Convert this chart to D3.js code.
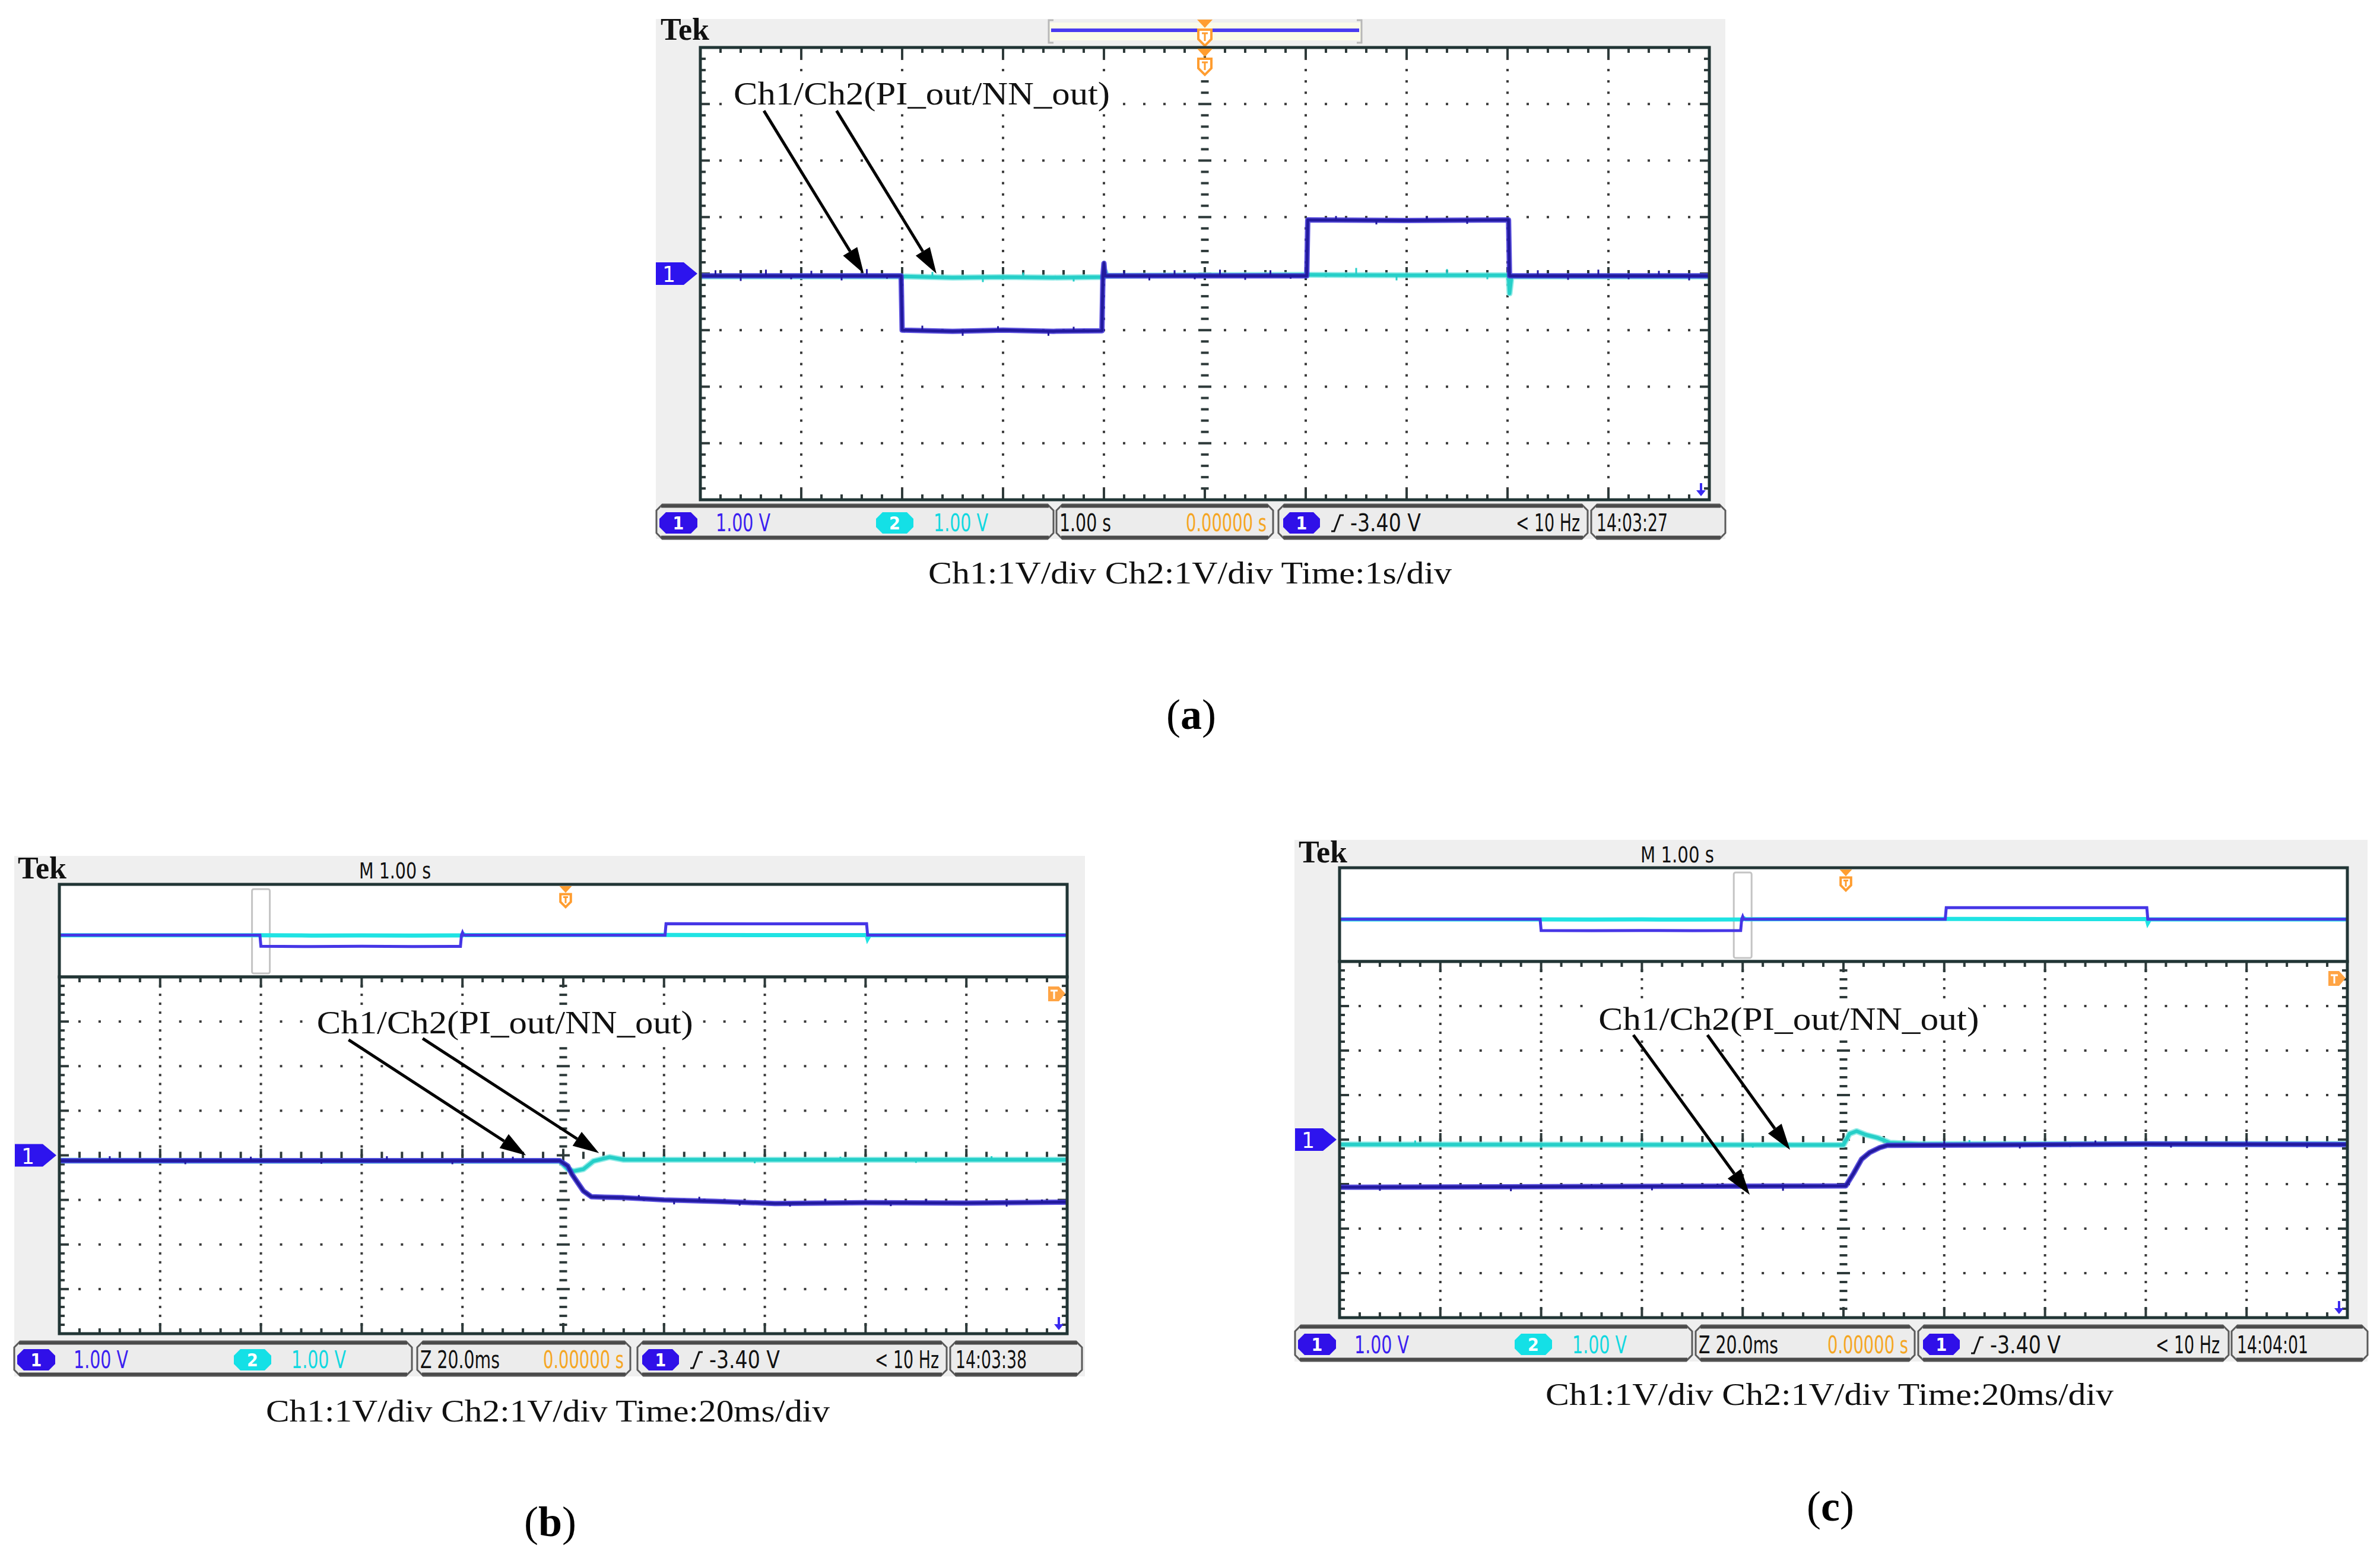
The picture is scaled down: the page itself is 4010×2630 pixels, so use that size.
<!DOCTYPE html>
<html><head><meta charset="utf-8">
<script src="https://cdn.jsdelivr.net/npm/d3@7"></script>
<style>html,body{margin:0;padding:0;background:#fff;}svg{display:block}</style>
</head><body>
<svg id="c" width="4010" height="2630"></svg>
<script>
// ================= DATA =================
const annotationText = "Ch1/Ch2(PI_out/NN_out)";
const panelLabels = ["a", "b", "c"];
const captions = ["Ch1:1V/div Ch2:1V/div Time:1s/div", "Ch1:1V/div Ch2:1V/div Time:20ms/div", "Ch1:1V/div Ch2:1V/div Time:20ms/div"];
const ch1ScaleLabel = "1.00 V";
const ch2ScaleLabel = "1.00 V";
const timebaseLabels = ["1.00 s", "Z 20.0ms", "Z 20.0ms"];
const positionLabel = "0.00000 s";
const triggerLevelLabel = "-3.40 V";
const freqLabel = "< 10 Hz";
const clockLabels = ["14:03:27", "14:03:38", "14:04:01"];
const mainTimebaseLabel = "M 1.00 s";
const zoomWindowCenters = [null, -3, -1];   // s, position of zoom window in the record

// Full record (panel a and overviews): [time s, volts]
const ch1Record = [[-5,-0.04],[-3.01,-0.04],[-3.0,-1.0],[-2.5,-1.02],[-2.0,-1.0],[-1.5,-1.02],[-1.02,-1.01],[-1.01,-0.04],[-1.0,0.18],[-0.99,-0.04],[1.01,-0.04],[1.02,0.95],[2.0,0.94],[3.01,0.95],[3.02,-0.04],[5,-0.04]];
const ch2Record = [[-5,-0.05],[-3.0,-0.05],[-2.5,-0.07],[-2.0,-0.06],[-1.5,-0.07],[-1.0,-0.06],[-0.99,0.04],[-0.97,-0.04],[1.0,-0.02],[2.0,-0.03],[3.01,-0.03],[3.02,-0.35],[3.04,-0.05],[5,-0.05]];
const ch1SpikesA = [[-4.85,-0.04,0.06],[-4.6,-0.04,-0.13],[-4.35,-0.04,0.07],[-4.1,-0.04,-0.1],[-3.9,-0.04,0.05],[-3.6,-0.04,-0.12],[-3.35,-0.04,0.08],[-3.15,-0.04,-0.09],[-2.8,-1.0,-0.92],[-2.4,-1.02,-1.1],[-2.05,-1.0,-0.93],[-1.55,-1.02,-1.1],[-1.3,-1.0,-0.94],[-0.8,-0.04,0.05],[-0.55,-0.04,-0.12],[-0.3,-0.04,0.06],[-0.1,-0.04,-0.1],[0.15,-0.04,0.07],[0.4,-0.04,-0.11],[0.65,-0.04,0.06],[0.85,-0.04,-0.09],[1.3,0.95,1.02],[1.7,0.94,0.87],[2.2,0.95,1.01],[2.6,0.94,0.88],[3.3,-0.04,0.06],[3.6,-0.04,-0.11],[3.9,-0.04,0.07],[4.2,-0.04,-0.1],[4.5,-0.04,0.05],[4.8,-0.04,-0.12]];
const ch2SpikesA = [[-2.7,-0.06,0.03],[-2.2,-0.06,-0.15],[-1.8,-0.07,0.02],[-1.3,-0.06,-0.14],[1.5,-0.02,0.1],[1.9,-0.03,-0.12],[2.4,-0.03,0.08],[2.8,-0.03,-0.1]];

// Panel b zoom: [time ms, volts]
const ch1ZoomB = [[-100,-0.12],[-0.7,-0.12],[0.9,-0.24],[1.7,-0.42],[2.9,-0.62],[4.0,-0.80],[5.6,-0.93],[12,-0.95],[20,-1.0],[30,-1.03],[42,-1.08],[60,-1.06],[80,-1.07],[100,-1.05]];
const ch2ZoomB = [[-100,-0.12],[-0.7,-0.13],[0.9,-0.31],[2.1,-0.355],[4.0,-0.31],[6.0,-0.13],[9.2,-0.04],[12,-0.1],[100,-0.1]];
const ch1SpikesB = [[-90,-0.12,-0.02],[-75,-0.12,-0.2],[-62,-0.12,-0.03],[-48,-0.12,-0.19],[-35,-0.12,-0.02],[-22,-0.12,-0.2],[-10,-0.12,-0.03],[15,-0.96,-0.89],[22,-1.0,-1.1],[27,-1.01,-0.93],[35,-1.05,-1.13],[45,-1.08,-1.15],[52,-1.07,-0.98],[65,-1.06,-1.14],[72,-1.06,-0.99],[88,-1.07,-1.15],[95,-1.06,-0.99]];
const ch2SpikesB = [[20,-0.1,-0.02],[38,-0.1,-0.18],[55,-0.1,-0.03],[70,-0.1,-0.17],[85,-0.1,-0.02]];

// Panel c zoom: [time ms, volts]
const ch1ZoomC = [[-100,-1.07],[0.47,-1.04],[2.0,-0.76],[3.6,-0.44],[5.2,-0.29],[7.2,-0.18],[8.7,-0.13],[30,-0.12],[60,-0.1],[100,-0.11]];
const ch2ZoomC = [[-100,-0.11],[0,-0.12],[1.2,0.13],[2.6,0.19],[4.4,0.11],[6.8,0.04],[9.2,-0.07],[15,-0.1],[100,-0.1]];
const ch1SpikesC = [[-92,-1.07,-1.15],[-80,-1.07,-1.0],[-66,-1.07,-1.16],[-50,-1.07,-1.0],[-38,-1.07,-1.14],[-25,-1.07,-0.99],[-12,-1.07,-1.15],[20,-0.12,-0.03],[35,-0.12,-0.2],[50,-0.11,-0.02],[65,-0.1,-0.18],[80,-0.1,-0.02],[92,-0.11,-0.19]];
const ch2SpikesC = [[-85,-0.11,-0.02],[-60,-0.11,-0.19],[-40,-0.11,-0.03],[-18,-0.11,-0.18],[25,-0.1,-0.01],[45,-0.1,-0.17]];

// Annotations (data coords): text anchor [t, v]; arrows [t0, v0, t1, v1]
const annotTextPos = [[-4.67, 2.99], [-48.9, 2.73], [-48.6, 2.47]];
const annotArrows = [
  [[-4.37, 2.88, -3.38, 0.0], [-3.65, 2.88, -2.66, 0.0]],
  [[-42.6, 2.59, -7.4, 0.0], [-27.9, 2.62, 7.1, 0.05]],
  [[-41.7, 2.35, -18.6, -1.24], [-27.0, 2.35, -10.6, -0.23]]
];

// ================= LAYOUT =================
const SERIF = "'Liberation Serif','Times New Roman',serif";
const UI = "'DejaVu Sans Condensed','Liberation Sans Narrow','Liberation Sans',sans-serif";
const BLUE = "#221a9e", BLUE_EDGE = "#3f33d8", CYAN = "#26cfc8", CYAN_EDGE = "#7ee8e3";
const ORANGE = "#ff9d30";
const layouts = [
  {bg:[1105,32,2907,908], grid:[1180,2880,80,842], ov:null, bar:[850,908], segs:[[1106,1775],[1780,2145],[2154,2675],[2681,2907]], tek:[1113,67], cap:[1564,983,882], lab:[2007,1228], tdom:[-5,5], annW:634},
  {bg:[24,1442,1828,2319], grid:[100,1798,1646,2247], ov:[100,1798,1490,1646], bar:[2260,2318], segs:[[24,694],[703,1062],[1074,1595],[1601,1823]], tek:[30,1480], m:[605,1480,121], cap:[448,2395,950], lab:[927,2588], tdom:[-100,100], annW:634},
  {bg:[2181,1415,3989,2294], grid:[2257,3955,1620,2220], ov:[2257,3955,1462,1620], bar:[2233,2293], segs:[[2182,2851],[2857,3226],[3232,3755],[3760,3989]], tek:[2188,1453], m:[2764,1453,124], cap:[2604,2367,957], lab:[3084,2562], tdom:[-100,100], annW:641}
];
const panelData = [
  {ch1: ch1Record, ch2: ch2Record, s1: ch1SpikesA, s2: ch2SpikesA},
  {ch1: ch1ZoomB, ch2: ch2ZoomB, s1: ch1SpikesB, s2: ch2SpikesB},
  {ch1: ch1ZoomC, ch2: ch2ZoomC, s1: ch1SpikesC, s2: ch2SpikesC}
];

const svg = d3.select('#c');
const defs = svg.append('defs');

function chamfer(x0,y0,x1,y1,c){return `M${x0+c},${y0}H${x1-c}L${x1},${y0+c}V${y1-c}L${x1-c},${y1}H${x0+c}L${x0},${y1-c}V${y0+c}Z`;}
function txt(g,x,y,s,opt){
  const t=g.append('text').attr('x',x).attr('y',y).text(s)
    .attr('font-family',opt.font||UI).attr('font-size',opt.size||40).attr('fill',opt.fill||'#111');
  if(opt.bold) t.attr('font-weight','bold');
  if(opt.len){t.attr('textLength',opt.len).attr('lengthAdjust','spacingAndGlyphs');}
  if(opt.anchor) t.attr('text-anchor',opt.anchor);
  return t;
}
function badge(g,x,yc,w,h,fill,label){
  g.append('path').attr('d',chamfer(x,yc-h/2,x+w,yc+h/2,11)).attr('fill',fill);
  txt(g,x+w/2,yc+11,label,{size:30,fill:'#fff',anchor:'middle',bold:true});
}
function triggerMarker(g,cx,y,sc){
  sc=sc||1;
  g.append('path').attr('d',`M${cx-13*sc},${y}H${cx+13*sc}L${cx},${y+14*sc}Z`).attr('fill',ORANGE);
  g.append('path').attr('d',`M${cx-11*sc},${y+17*sc}H${cx+11*sc}V${y+33*sc}L${cx},${y+44*sc}L${cx-11*sc},${y+33*sc}Z`)
    .attr('fill','#fff').attr('stroke',ORANGE).attr('stroke-width',4);
  g.append('path').attr('d',`M${cx-5*sc},${y+23*sc}H${cx+5*sc}M${cx},${y+23*sc}V${y+36*sc}`).attr('stroke',ORANGE).attr('stroke-width',3);
}

function drawGrid(g,L,R,T,B){
  g.append('rect').attr('x',L).attr('y',T).attr('width',R-L).attr('height',B-T).attr('fill','#fff');
  const dx=(R-L)/10, dy=(B-T)/8, cx=L+5*dx, cy=T+4*dy;
  const dots=[];
  for(let i=1;i<10;i++){ if(i===5) continue; for(let j=1;j<40;j++) dots.push([L+i*dx,T+j*dy/5]); }
  for(let j=1;j<8;j++){ if(j===4) continue; for(let i=1;i<50;i++){ if(i%5===0) continue; dots.push([L+i*dx/5,T+j*dy]); } }
  g.append('g').selectAll('rect').data(dots).join('rect')
    .attr('x',d=>d[0]-2).attr('y',d=>d[1]-2).attr('width',4).attr('height',4).attr('fill','#3a3a3a');
  const marks=[];
  for(let j=1;j<40;j++){ const w=j%5===0?22:13; marks.push([cx-w/2,T+j*dy/5-2,w,4]); }
  for(let i=1;i<50;i++){ const h=i%5===0?22:12; marks.push([L+i*dx/5-2,cy-h/2,4,h]); }
  for(let i=1;i<50;i++){ const h=i%5===0?18:9; marks.push([L+i*dx/5-2,T,4,h]); marks.push([L+i*dx/5-2,B-h,4,h]); }
  for(let j=1;j<40;j++){ const w=j%5===0?16:9; marks.push([L,T+j*dy/5-2,w,4]); marks.push([R-w,T+j*dy/5-2,w,4]); }
  g.append('g').selectAll('rect').data(marks).join('rect')
    .attr('x',d=>d[0]).attr('y',d=>d[1]).attr('width',d=>d[2]).attr('height',d=>d[3]).attr('fill','#2e3a3a');
}
function trace(g,data,x,y,core,edge,w){
  const ln=d3.line().x(d=>x(d[0])).y(d=>y(d[1]));
  g.append('path').datum(data).attr('d',ln).attr('fill','none').attr('stroke',edge).attr('stroke-width',w+4).attr('stroke-linejoin','round').attr('opacity',0.85);
  g.append('path').datum(data).attr('d',ln).attr('fill','none').attr('stroke',core).attr('stroke-width',w).attr('stroke-linejoin','round');
}
function spikes(g,data,x,y,color){
  g.append('g').selectAll('line').data(data).join('line')
    .attr('x1',d=>x(d[0])).attr('x2',d=>x(d[0])).attr('y1',d=>y(d[1])).attr('y2',d=>y(d[2]))
    .attr('stroke',color).attr('stroke-width',3);
}
function arrow(g,x0,y0,x1,y1){
  const a=Math.atan2(y1-y0,x1-x0), len=44, hw=14;
  const bx=x1-len*Math.cos(a), by=y1-len*Math.sin(a);
  g.append('line').attr('x1',x0).attr('y1',y0).attr('x2',bx).attr('y2',by).attr('stroke','#000').attr('stroke-width',5);
  g.append('path').attr('d',`M${x1},${y1}L${bx+hw*Math.sin(a)},${by-hw*Math.cos(a)}L${bx-hw*Math.sin(a)},${by+hw*Math.cos(a)}Z`).attr('fill','#000');
}
function infoBar(g,lay,idx){
  const [y0,y1]=lay.bar, segs=lay.segs;
  segs.forEach(s=>{
    g.append('path').attr('d',chamfer(s[0],y0,s[1],y1,10)).attr('fill','#ececec').attr('stroke','#5a5a5a').attr('stroke-width',3);
    g.append('line').attr('x1',s[0]+8).attr('x2',s[1]-8).attr('y1',y0+3).attr('y2',y0+3).attr('stroke','#4a4a4a').attr('stroke-width',5);
    g.append('line').attr('x1',s[0]+8).attr('x2',s[1]-8).attr('y1',y1-3).attr('y2',y1-3).attr('stroke','#4a4a4a').attr('stroke-width',5);
  });
  const yc=(y0+y1)/2+2, base=y1-13;
  badge(g,segs[0][0]+5,yc,64,36,'#3010e8','1');
  txt(g,segs[0][0]+100,base,ch1ScaleLabel,{len:92,fill:'#3a20f0'});
  badge(g,segs[0][0]+370,yc,63,36,'#14e0e6','2');
  txt(g,segs[0][0]+467,base,ch2ScaleLabel,{len:92,fill:'#12d8e0'});
  txt(g,segs[1][0]+5,base,timebaseLabels[idx],{len:idx===0?87:134});
  txt(g,segs[1][1]-147,base,positionLabel,{len:136,fill:'#f5a623'});
  badge(g,segs[2][0]+8,yc,62,36,'#3010e8','1');
  const sx=segs[2][0]+89;
  g.append('path').attr('d',`M${sx},${base}h5L${sx+15},${base-27}h6`).attr('fill','none').attr('stroke','#111').attr('stroke-width',3);
  txt(g,segs[2][0]+121,base,triggerLevelLabel,{len:119});
  txt(g,segs[2][0]+400,base,freqLabel,{len:108});
  txt(g,segs[3][0]+9,base,clockLabels[idx],{len:120});
}

layouts.forEach((lay,idx)=>{
  const g=svg.append('g');
  const [bx0,by0,bx1,by1]=lay.bg;
  g.append('rect').attr('x',bx0).attr('y',by0).attr('width',bx1-bx0).attr('height',by1-by0).attr('fill','#efefef');
  const [L,R,T,B]=lay.grid;
  const x=d3.scaleLinear().domain(lay.tdom).range([L,R]);
  const y=d3.scaleLinear().domain([-4,4]).range([B,T]);

  txt(g,lay.tek[0],lay.tek[1],"Tek",{font:SERIF,size:52,bold:true,len:82});

  if(!lay.ov){
    const rb0=1767, rb1=2294, ry0=34, ry1=72;
    g.append('rect').attr('x',rb0).attr('y',ry0+4).attr('width',rb1-rb0).attr('height',ry1-ry0-8).attr('fill','#fbfbe8');
    g.append('path').attr('d',`M${rb0+8},${ry0}H${rb0}V${ry1}H${rb0+8}M${rb1-8},${ry0}H${rb1}V${ry1}H${rb1-8}`).attr('fill','none').attr('stroke','#b8b8b8').attr('stroke-width',3);
    const rx=d3.scaleLinear().domain([-5,5]).range([rb0+4,rb1-4]);
    g.append('line').attr('x1',rx(-5)).attr('x2',rx(5)).attr('y1',51).attr('y2',51).attr('stroke','#4a3cf0').attr('stroke-width',6);
    triggerMarker(g,x(0),33,1);
  } else {
    txt(g,lay.m[0],lay.m[1],mainTimebaseLabel,{size:38,len:lay.m[2]});
    const [oL,oR,oT,oB]=lay.ov;
    g.append('rect').attr('x',oL).attr('y',oT).attr('width',oR-oL).attr('height',oB-oT).attr('fill','#fff');
    const ox=d3.scaleLinear().domain([-5,5]).range([oL,oR]);
    const oy=d3.scaleLinear().domain([-3.65,4.35]).range([oB,oT]);
    const zc=zoomWindowCenters[idx];
    g.append('rect').attr('x',ox(zc)-15).attr('y',oT+8).attr('width',30).attr('height',oB-oT-14).attr('rx',3)
      .attr('fill','none').attr('stroke','#c4c4c4').attr('stroke-width',3);
    const lnO=d3.line().x(d=>ox(d[0])).y(d=>oy(d[1]));
    g.append('path').datum(ch2Record).attr('d',lnO).attr('fill','none').attr('stroke','#1fe3e3').attr('stroke-width',7);
    g.append('path').datum(ch1Record).attr('d',lnO).attr('fill','none').attr('stroke','#4636e6').attr('stroke-width',5);
    triggerMarker(g,ox(0)+4,oT+3,0.8);
    g.append('rect').attr('x',oL).attr('y',oT).attr('width',oR-oL).attr('height',oB-oT).attr('fill','none').attr('stroke','#213535').attr('stroke-width',5);
  }

  drawGrid(g,L,R,T,B);

  // annotation text background (covers grid dots under text)
  const ap=annotTextPos[idx];
  g.append('rect').attr('x',x(ap[0])-4).attr('y',y(ap[1])-44).attr('width',lay.annW+8).attr('height',60).attr('fill','#fff');

  const cid='clip'+idx;
  defs.append('clipPath').attr('id',cid).append('rect').attr('x',L+2).attr('y',T+2).attr('width',R-L-4).attr('height',B-T-4);
  const tg=g.append('g').attr('clip-path',`url(#${cid})`);
  const pd=panelData[idx];
  trace(tg,pd.ch2,x,y,CYAN,CYAN_EDGE,6);
  spikes(tg,pd.s2,x,y,CYAN);
  trace(tg,pd.ch1,x,y,BLUE,BLUE_EDGE,5);
  spikes(tg,pd.s1,x,y,BLUE);
  g.append('rect').attr('x',L).attr('y',T).attr('width',R-L).attr('height',B-T).attr('fill','none').attr('stroke','#213535').attr('stroke-width',5);

  if(!lay.ov) triggerMarker(g,x(0),T+2,1);
  else {
    const mx=R-32, my=T+16;
    g.append('path').attr('d',`M${mx},${my}H${mx+18}L${mx+29},${my+12}L${mx+18},${my+25}H${mx}Z`).attr('fill','#ffa444');
    g.append('path').attr('d',`M${mx+4},${my+7}H${mx+16}M${mx+10},${my+7}V${my+21}`).attr('stroke','#fff').attr('stroke-width',3);
  }
  const ax=R-14;
  g.append('path').attr('d',`M${ax-2},${B-28}h4v12h6l-8,10l-8,-10h6z`).attr('fill','#3a2af0');
  const mY=y(0), mL=L-75;
  g.append('path').attr('d',`M${mL},${mY-19}H${mL+47}L${mL+70},${mY}L${mL+47},${mY+19}H${mL}Z`).attr('fill','#2d14ee');
  txt(g,mL+22,mY+14,"1",{size:38,fill:'#fff',anchor:'middle'});

  infoBar(g,lay,idx);

  txt(g,x(ap[0]),y(ap[1]),annotationText,{font:SERIF,size:54,len:lay.annW});
  annotArrows[idx].forEach(a=>arrow(g,x(a[0]),y(a[1]),x(a[2]),y(a[3])));

  txt(svg,lay.cap[0],lay.cap[1],captions[idx],{font:SERIF,size:52,len:lay.cap[2]});
  const lt=svg.append('text').attr('x',lay.lab[0]).attr('y',lay.lab[1]).attr('text-anchor','middle')
    .attr('font-family',SERIF).attr('font-size',72).attr('fill','#000');
  lt.append('tspan').text('(');
  lt.append('tspan').attr('font-weight','bold').text(panelLabels[idx]);
  lt.append('tspan').text(')');
});
</script>
</body></html>
